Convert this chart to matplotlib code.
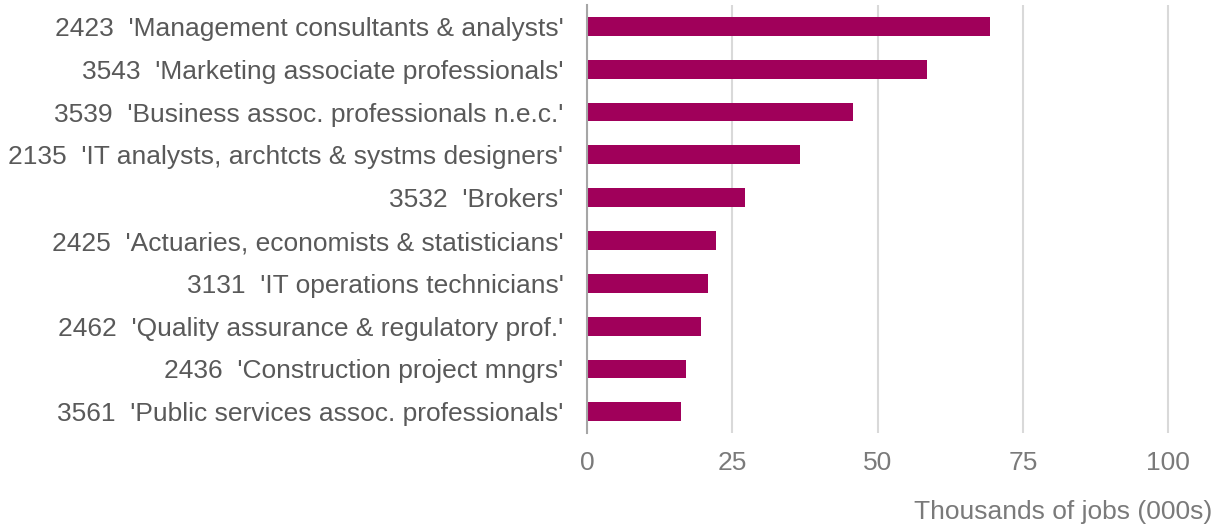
import matplotlib
matplotlib.use("Agg")
import matplotlib.pyplot as plt

labels = [
    "2423  'Management consultants & analysts'",
    "3543  'Marketing associate professionals'",
    "3539  'Business assoc. professionals n.e.c.'",
    "2135  'IT analysts, archtcts & systms designers'",
    "3532  'Brokers'",
    "2425  'Actuaries, economists & statisticians'",
    "3131  'IT operations technicians'",
    "2462  'Quality assurance & regulatory prof.'",
    "2436  'Construction project mngrs'",
    "3561  'Public services assoc. professionals'",
]
values = [69.4, 58.5, 45.8, 36.7, 27.2, 22.2, 20.8, 19.6, 17.0, 16.2]
xticks = [0, 25, 50, 75, 100]
xlabel = "Thousands of jobs (000s)"

plt.rcParams['font.family'] = ['Liberation Sans', 'DejaVu Sans']
fig = plt.figure(figsize=(12.18, 5.27), dpi=100)
ax = fig.add_axes([0.482, 0.178, 0.4794, 0.8125])

ypos = list(range(len(labels)))
ax.barh(ypos, values, height=0.44, color="#A0005A", zorder=3)
ax.set_ylim(len(labels) - 0.5, -0.5)
ax.set_xlim(0, 100.5)
ax.set_xticks(xticks)
ax.set_yticks(ypos)
ax.set_yticklabels(labels, fontsize=19, color="#595959")
ax.tick_params(axis='y', length=0, pad=17)
ax.tick_params(axis='x', length=0, pad=13, labelsize=19, labelcolor="#7a7a7a")
ax.grid(axis='x', color="#d9d9d9", linewidth=1.5, zorder=0)
for s in ['top', 'right', 'bottom']:
    ax.spines[s].set_visible(False)
ax.spines['left'].set_color("#a6a6a6")
ax.spines['left'].set_linewidth(1.5)
ax.spines['left'].set_zorder(4)
fig.text(0.995, 0.028, xlabel, ha='right', va='center', fontsize=19, color="#7a7a7a")
fig.savefig("out.png", dpi=100)
